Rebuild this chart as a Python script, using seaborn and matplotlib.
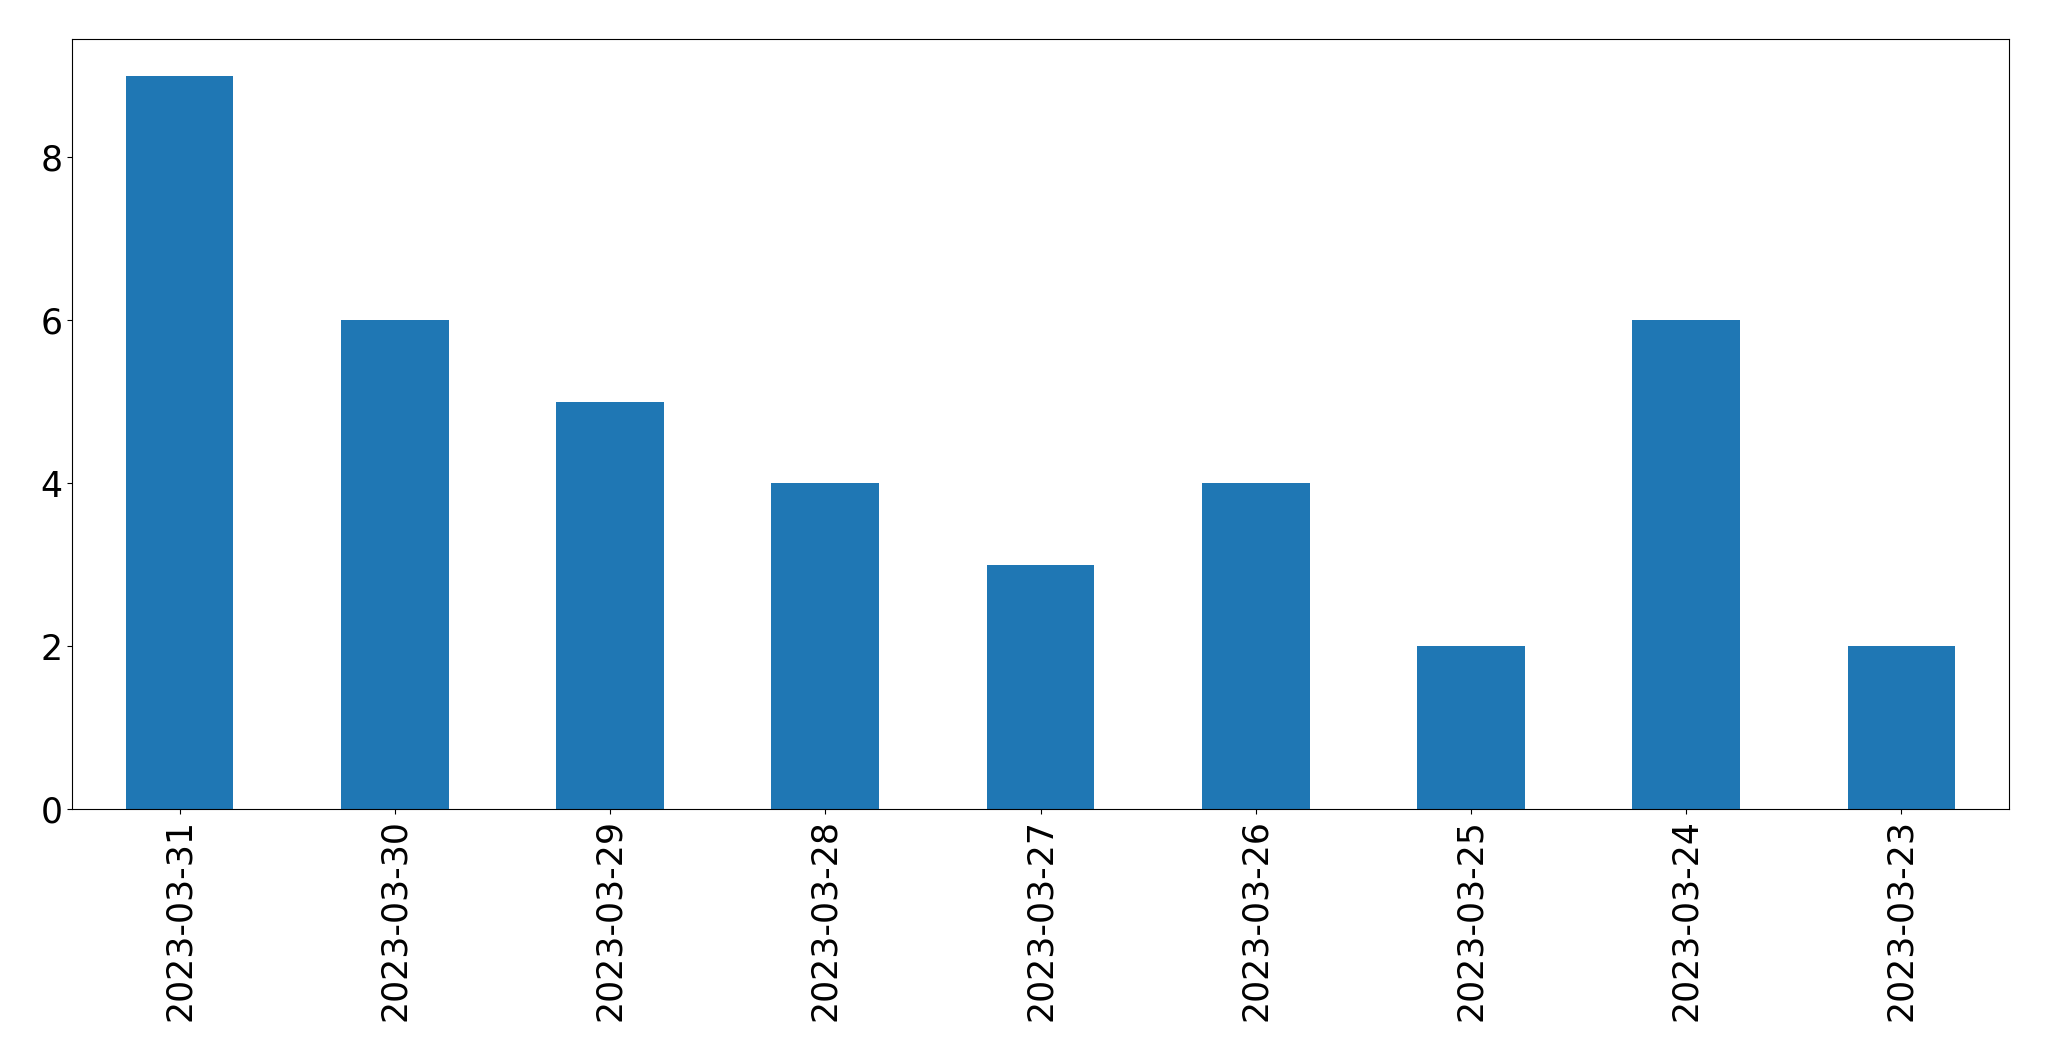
import matplotlib
matplotlib.use('Agg')
import matplotlib.pyplot as plt
import pandas as pd
import seaborn as sns

# ---------------------------
# Data
# ---------------------------
dates = ["2023-03-31", "2023-03-30", "2023-03-29", "2023-03-28", "2023-03-27",
         "2023-03-26", "2023-03-25", "2023-03-24", "2023-03-23"]
counts = [9, 6, 5, 4, 3, 4, 2, 6, 2]

df = pd.DataFrame({"date": dates, "count": counts})

# ---------------------------
# Plot
# ---------------------------
fig, ax = plt.subplots(figsize=(20.49, 10.61), dpi=100)
fig.subplots_adjust(left=72 / 2049, right=2009 / 2049, top=1 - 39 / 1061, bottom=1 - 809 / 1061)

sns.barplot(data=df, x="date", y="count", order=dates, color="#1f77b4",
            saturation=1, width=0.5, ax=ax)

ax.set_xlim(-0.5, len(dates) - 0.5)
ax.set_ylim(0, max(counts) * 1.05)
ax.set_xlabel("")
ax.set_ylabel("")
ax.tick_params(axis="both", labelsize=25)
ax.tick_params(axis="x", labelrotation=90)

fig.savefig("out.png", dpi=100)
plt.close(fig)
